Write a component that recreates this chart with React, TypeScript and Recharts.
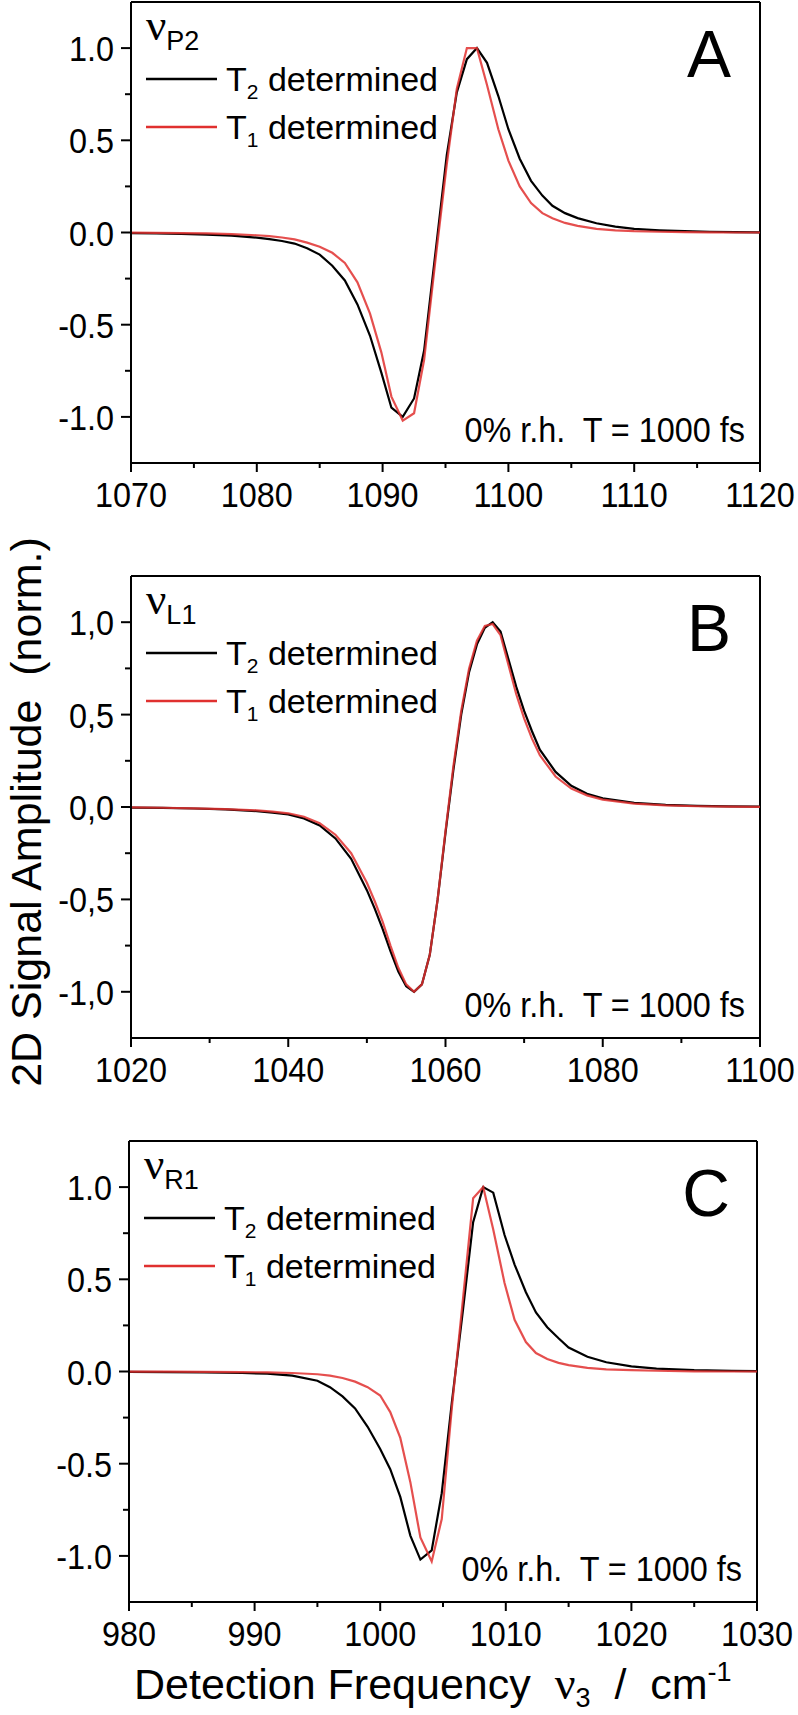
import React from 'react';
import { LineChart, Line, XAxis, YAxis, ReferenceLine, Legend } from 'recharts';

const SANS = '"Liberation Sans", Arial, Helvetica, sans-serif';
const SERIF = '"Liberation Serif", "Times New Roman", serif';
const RED = '#e0302f';

// panel A: nu_P2, 1070-1120 cm-1
const xA = [1070, 1072, 1074, 1076, 1078, 1080, 1081, 1082, 1083, 1084, 1085, 1086, 1087, 1088, 1089, 1089.9, 1090.7, 1091.6, 1092.5, 1093.3, 1094.2, 1095.1, 1095.9, 1096.7, 1097.5, 1098.3, 1099.2, 1100, 1100.9, 1101.8, 1102.7, 1103.5, 1104.5, 1105.5, 1107, 1108.5, 1110, 1112, 1114, 1116, 1118, 1120];
const t2A = [-0.003, -0.005, -0.007, -0.011, -0.017, -0.028, -0.036, -0.046, -0.06, -0.085, -0.12, -0.18, -0.26, -0.39, -0.56, -0.76, -0.95, -1.0, -0.9, -0.64, -0.11, 0.42, 0.76, 0.94, 1.0, 0.92, 0.74, 0.56, 0.4, 0.28, 0.2, 0.145, 0.105, 0.078, 0.05, 0.032, 0.02, 0.012, 0.007, 0.004, 0.002, 0.001];
const t1A = [-0.001, -0.002, -0.003, -0.005, -0.009, -0.015, -0.02, -0.027, -0.037, -0.055, -0.077, -0.11, -0.165, -0.27, -0.44, -0.65, -0.89, -1.02, -0.98, -0.69, -0.15, 0.37, 0.78, 1.0, 1.0, 0.8, 0.56, 0.39, 0.25, 0.16, 0.105, 0.077, 0.052, 0.036, 0.02, 0.012, 0.007, 0.004, 0.002, 0.001, 0.0, 0.0];

// panel B: nu_L1, 1020-1100 cm-1
const xB = [1020, 1024, 1028, 1032, 1036, 1038, 1040, 1042, 1044, 1046, 1048, 1050, 1051, 1052, 1053, 1054, 1055, 1056, 1057, 1058, 1059, 1060, 1061, 1062, 1063, 1064, 1065, 1066, 1067, 1068, 1069, 1070, 1071, 1072, 1074, 1076, 1078, 1080, 1084, 1088, 1092, 1096, 1100];
const t2B = [-0.003, -0.005, -0.008, -0.013, -0.022, -0.03, -0.04, -0.062, -0.1, -0.17, -0.28, -0.45, -0.55, -0.66, -0.78, -0.89, -0.97, -1.0, -0.96, -0.8, -0.5, -0.14, 0.2, 0.5, 0.73, 0.88, 0.97, 1.0, 0.95, 0.8, 0.65, 0.52, 0.41, 0.31, 0.19, 0.115, 0.072, 0.047, 0.022, 0.011, 0.006, 0.003, 0.002];
const t1B = [-0.002, -0.004, -0.007, -0.011, -0.018, -0.025, -0.034, -0.053, -0.088, -0.15, -0.25, -0.41, -0.51, -0.62, -0.75, -0.87, -0.96, -1.0, -0.96, -0.8, -0.5, -0.13, 0.22, 0.52, 0.75, 0.9, 0.98, 0.99, 0.93, 0.77, 0.61, 0.48, 0.37, 0.28, 0.165, 0.1, 0.063, 0.04, 0.018, 0.009, 0.004, 0.002, 0.001];

// panel C: nu_R1, 980-1030 cm-1
const xC = [980, 983, 986, 989, 991, 993, 995, 996, 997, 998, 999, 1000, 1000.8, 1001.6, 1002.4, 1003.2, 1004.1, 1004.9, 1005.7, 1006.6, 1007.4, 1008.2, 1009.0, 1009.9, 1010.7, 1011.6, 1012.4, 1013.3, 1014.2, 1015, 1016.5, 1018, 1020, 1022, 1025, 1028, 1030];
const t2C = [-0.002, -0.003, -0.005, -0.008, -0.012, -0.022, -0.05, -0.085, -0.135, -0.2, -0.3, -0.42, -0.53, -0.68, -0.89, -1.02, -0.97, -0.66, -0.17, 0.34, 0.81, 1.0, 0.97, 0.74, 0.58, 0.43, 0.32, 0.24, 0.18, 0.13, 0.08, 0.05, 0.028, 0.016, 0.007, 0.003, 0.002];
const t1C = [-0.001, -0.001, -0.002, -0.003, -0.005, -0.008, -0.015, -0.022, -0.035, -0.055, -0.085, -0.13, -0.22, -0.36, -0.6, -0.9, -1.03, -0.8, -0.2, 0.4, 0.94, 1.0, 0.77, 0.48, 0.28, 0.16, 0.1, 0.068, 0.047, 0.035, 0.02, 0.012, 0.007, 0.004, 0.001, 0.0, 0.0];

const xTicksA = [1070, 1075, 1080, 1085, 1090, 1095, 1100, 1105, 1110, 1115, 1120];
const xTicksB = [1020, 1030, 1040, 1050, 1060, 1070, 1080, 1090, 1100];
const xTicksC = [980, 985, 990, 995, 1000, 1005, 1010, 1015, 1020, 1025, 1030];
const yTicks = [-1, -0.75, -0.5, -0.25, 0, 0.25, 0.5, 0.75, 1];

const zip = (x: number[], t2: number[], t1: number[]) =>
  x.map((v, i) => ({ x: v, t2: t2[i], t1: t1[i] }));

const XTick = (props: any) => {
  const { x, y, payload, major } = props;
  const v = payload.value;
  const isMajor = Math.abs(v % major) < 1e-6;
  return (
    <g>
      <line x1={x} x2={x} y1={y} y2={y + (isMajor ? 9 : 5)} stroke="#000" strokeWidth={2} />
      {isMajor && (
        <text transform={`translate(${x},${y + 44}) scale(0.9,1)`} textAnchor="middle"
          fontSize={36} fontFamily={SANS} fill="#000">{v}</text>
      )}
    </g>
  );
};

const YTick = (props: any) => {
  const { x, y, payload, comma } = props;
  const v = payload.value;
  const isMajor = Math.abs((v * 2) % 1) < 1e-6;
  let label = (Math.abs(v) < 1e-9 ? 0 : v).toFixed(1);
  if (comma) label = label.replace('.', ',');
  return (
    <g>
      <line x1={x - (isMajor ? 10 : 6)} x2={x} y1={y} y2={y} stroke="#000" strokeWidth={2} />
      {isMajor && (
        <text transform={`translate(${x - 17},${y + 13}) scale(0.9,1)`} textAnchor="end"
          fontSize={36} fontFamily={SANS} fill="#000">{label}</text>
      )}
    </g>
  );
};

// T2 first, then T1, as in the original legend
const legendOrder: Record<string, number> = { t2: 0, t1: 1 };

const LegendBox = ({ payload }: any) => {
  const items = [...(payload || [])].sort((a: any, b: any) => legendOrder[a.dataKey] - legendOrder[b.dataKey]);
  return (
    <svg width={300} height={100} style={{ overflow: 'visible', display: 'block' }}>
      {items.map((e: any, i: number) => (
        <g key={e.value} transform={`translate(0,${i * 48})`}>
          <line x1={6} x2={77} y1={24} y2={24} stroke={e.color} strokeWidth={2.5} />
          <text x={86} y={36} fontSize={34} fontFamily={SANS} fill="#000">
            {e.value[0]}
            <tspan fontSize={21} dy={8}>{e.value[1]}</tspan>
            <tspan dy={-8}>{e.value.slice(2)}</tspan>
          </text>
        </g>
      ))}
    </svg>
  );
};

type PanelProps = {
  data: { x: number; t2: number; t1: number }[];
  domain: [number, number];
  ticks: number[];
  major: number;
  comma?: boolean;
  top: number;
  height: number;
  plotTop: number;
  axisH: number;
  left: number;
  right: number;
  letter: string;
  mode: string;
};

const Panel = ({ data, domain, ticks, major, comma, top, height, plotTop, axisH, left, right, letter, mode }: PanelProps) => {
  const plotBottom = height - axisH;
  return (
    <div style={{ position: 'absolute', left: 0, top, width: 798, height }}>
      <LineChart width={798} height={height} data={data}
        margin={{ top: plotTop, right: 798 - right, left: 0, bottom: 0 }}>
        <XAxis dataKey="x" type="number" domain={domain} ticks={ticks} interval={0}
          allowDataOverflow height={axisH} tickSize={0} tickMargin={0}
          axisLine={{ stroke: '#000', strokeWidth: 2 }} tickLine={false}
          tick={(p: any) => <XTick {...p} major={major} />} />
        <YAxis type="number" domain={[-1.25, 1.25]} ticks={yTicks} interval={0}
          allowDataOverflow width={left} tickSize={0} tickMargin={0}
          axisLine={{ stroke: '#000', strokeWidth: 2 }} tickLine={false}
          tick={(p: any) => <YTick {...p} comma={comma} />} />
        <ReferenceLine y={1.25} stroke="#000" strokeWidth={2} ifOverflow="visible" />
        <ReferenceLine x={domain[1]} stroke="#000" strokeWidth={2} ifOverflow="visible" />
        <Legend layout="horizontal" verticalAlign="middle" align="center" content={LegendBox}
          wrapperStyle={{ left: left + 9, top: plotTop + 53, width: 300, height: 100 }} />
        <Line type="linear" dataKey="t2" name="T2 determined" stroke="#000" strokeWidth={2.2}
          dot={false} isAnimationActive={false} />
        <Line type="linear" dataKey="t1" name="T1 determined" stroke={RED} strokeOpacity={0.85}
          strokeWidth={2.2} dot={false} isAnimationActive={false} />
      </LineChart>
      <svg width={798} height={height} style={{ position: 'absolute', left: 0, top: 0, pointerEvents: 'none' }}>
        <text x={left + 15} y={plotTop + 38} fontFamily={SERIF} fontSize={45} fill="#000">
          ν<tspan fontFamily={SANS} fontSize={27} dy={10}>{mode}</tspan>
        </text>
        <text x={right - 51} y={plotTop + 75} textAnchor="middle" fontFamily={SANS} fontSize={66} fill="#000">{letter}</text>
        <text transform={`translate(${right - 15},${plotBottom - 21}) scale(0.9,1)`} textAnchor="end"
          fontFamily={SANS} fontSize={36} fill="#000" style={{ whiteSpace: 'pre' }}>0% r.h.  T = 1000 fs</text>
      </svg>
    </div>
  );
};

export default function App() {
  return (
    <div style={{ position: 'absolute', left: 0, top: 0, width: 798, height: 1715, background: '#fff' }}>
      <Panel data={zip(xA, t2A, t1A)} domain={[1070, 1120]} ticks={xTicksA} major={10}
        top={0} height={530} plotTop={2} axisH={67} left={131} right={760} letter="A" mode="P2" />
      <Panel data={zip(xB, t2B, t1B)} domain={[1020, 1100]} ticks={xTicksB} major={20} comma
        top={540} height={564} plotTop={36} axisH={66} left={131} right={760} letter="B" mode="L1" />
      <Panel data={zip(xC, t2C, t1C)} domain={[980, 1030]} ticks={xTicksC} major={10}
        top={1104} height={565} plotTop={37} axisH={67} left={129} right={757} letter="C" mode="R1" />
      <svg width={798} height={1715} style={{ position: 'absolute', left: 0, top: 0, pointerEvents: 'none' }}>
        <text transform="translate(41,812) rotate(-90)" textAnchor="middle" fontFamily={SANS}
          fontSize={43} fill="#000" style={{ whiteSpace: 'pre' }}>2D Signal Amplitude  (norm.)</text>
        <text x={134} y={1699} fontFamily={SANS} fontSize={43} fill="#000" style={{ whiteSpace: 'pre' }}>
          {'Detection Frequency  '}
          <tspan fontFamily={SERIF} fontSize={46}>ν</tspan>
          <tspan fontSize={27} dy={8}>3</tspan>
          <tspan dy={-8}>{'  /  cm'}</tspan>
          <tspan fontSize={27} dy={-18}>-1</tspan>
        </text>
      </svg>
    </div>
  );
}
